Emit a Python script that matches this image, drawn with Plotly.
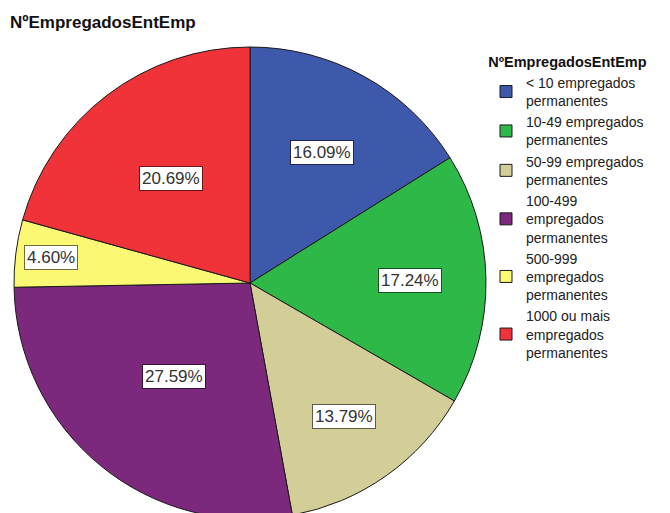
import math
import plotly.graph_objects as go

# ---- data ----
categories = [
    "< 10 empregados<br>permanentes",
    "10-49 empregados<br>permanentes",
    "50-99 empregados<br>permanentes",
    "100-499<br>empregados<br>permanentes",
    "500-999<br>empregados<br>permanentes",
    "1000 ou mais<br>empregados<br>permanentes",
]
counts = [14, 15, 12, 24, 4, 18]
title_text = "NºEmpregadosEntEmp"

# ---- style ----
colors = ["#3E58AC", "#2EB848", "#D3CE97", "#7C287D", "#FBF873", "#EF3338"]
label_radius = [0.63, 0.68, 0.69, 0.51, 0.85, 0.555]  # relative distance of boxed labels

W, H = 670, 513
OFF = 8  # page offset of the rendered figure
dom_x = [(14 - OFF) / W, (486 - OFF) / W]
dom_y = [1 - (519 - OFF) / H, 1 - (47 - OFF) / H]


def darker(hex_color, f=0.45):
    h = hex_color.lstrip("#")
    r, g, b = (int(h[i:i + 2], 16) for i in (0, 2, 4))
    return "#%02X%02X%02X" % (int(r * f), int(g * f), int(b * f))


fig = go.Figure(
    go.Pie(
        labels=categories,
        values=counts,
        sort=False,
        direction="clockwise",
        rotation=0,
        textinfo="none",
        hoverinfo="label+percent",
        marker=dict(colors=colors, line=dict(color="#1a1a1a", width=1)),
        domain=dict(x=dom_x, y=dom_y),
    )
)

# boxed percentage labels, positioned from the data (slice mid angles)
total = sum(counts)
px_w = (dom_x[1] - dom_x[0]) * W
px_h = (dom_y[1] - dom_y[0]) * H
radius = min(px_w, px_h) / 2
cx = (dom_x[0] + dom_x[1]) / 2 * W
cy = (1 - (dom_y[0] + dom_y[1]) / 2) * H
cum = 0
annotations = []
for v, col, k in zip(counts, colors, label_radius):
    mid = (cum + v / 2) / total
    cum += v
    th = 2 * math.pi * mid
    x = cx + radius * k * math.sin(th)
    y = cy - radius * k * math.cos(th)
    annotations.append(
        dict(
            x=x / W, y=1 - y / H, xref="paper", yref="paper",
            xanchor="center", yanchor="middle",
            text="%.2f%%" % (100 * v / total),
            showarrow=False,
            font=dict(family="Liberation Sans, Arial, sans-serif", size=17, color="#333333"),
            bgcolor="white",
            bordercolor=darker(col),
            borderwidth=1,
            borderpad=2,
        )
    )

fig.update_layout(
    width=W, height=H,
    margin=dict(l=0, r=0, t=0, b=0),
    paper_bgcolor="white",
    plot_bgcolor="white",
    title=dict(
        text="<b>%s</b>" % title_text,
        x=(10 - OFF) / W, xanchor="left", xref="container",
        y=1 - (22 - OFF) / H, yanchor="middle", yref="container",
        font=dict(family="Liberation Sans, Arial, sans-serif", size=17, color="#111111"),
    ),
    legend=dict(
        title=dict(text="<b>%s</b>" % title_text, side="top center",
                   font=dict(family="Liberation Sans, Arial, sans-serif", size=14.5, color="#111111")),
        x=(486 - OFF) / W, xanchor="left",
        y=1 - (48 - OFF) / H, yanchor="top",
        font=dict(family="Liberation Sans, Arial, sans-serif", size=14, color="#222222"),
        bgcolor="rgba(0,0,0,0)",
        valign="middle",
    ),
    annotations=annotations,
)

fig.write_html("out.html")
